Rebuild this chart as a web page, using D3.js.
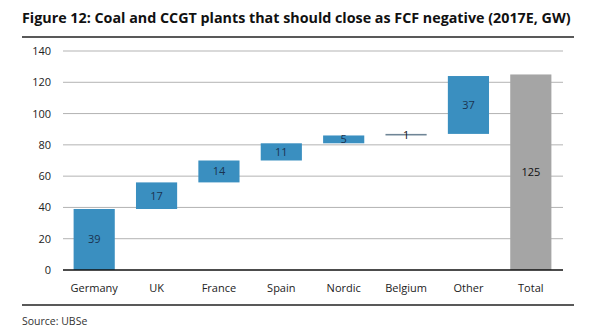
<!DOCTYPE html>
<html>
<head>
<meta charset="utf-8">
<script src="https://cdn.jsdelivr.net/npm/d3@7"></script>
<style>
  html, body { margin: 0; padding: 0; background: #fff; }
  svg { display: block; font-family: 'Open Sans', 'Noto Sans', sans-serif; }
</style>
</head>
<body>
<div id="chart"></div>
<script>
// Closures by country (GW), built up as a waterfall with a total bar
const categories = ['Germany', 'UK', 'France', 'Spain', 'Nordic', 'Belgium', 'Other', 'Total'];
const values = [39, 17, 14, 11, 5, 1, 37, 125];
const yTicks = [0, 20, 40, 60, 80, 100, 120, 140];

const width = 596, height = 334;
const margin = { left: 63, right: 33, top: 51, bottom: 64 };

const svg = d3.select('#chart').append('svg')
  .attr('width', width).attr('height', height);

// Title + rules
svg.append('text')
  .attr('x', 22).attr('y', 23)
  .attr('fill', '#111')
  .style('font-size', '14.3px')
  .style('font-weight', 700)
  .text('Figure 12: Coal and CCGT plants that should close as FCF negative (2017E, GW)');

svg.append('line')
  .attr('x1', 22).attr('x2', 574).attr('y1', 37).attr('y2', 37)
  .attr('stroke', '#222').attr('stroke-width', 1.5);

svg.append('line')
  .attr('x1', 22).attr('x2', 574).attr('y1', 305).attr('y2', 305)
  .attr('stroke', '#222').attr('stroke-width', 1.5);

svg.append('text')
  .attr('x', 22).attr('y', 325)
  .attr('fill', '#333')
  .style('font-size', '10.5px')
  .text('Source:  UBSe');

const x = d3.scaleBand()
  .domain(categories)
  .range([margin.left, width - margin.right - 1])
  .paddingInner(0.34).paddingOuter(0.17);

const y = d3.scaleLinear()
  .domain([0, 140])
  .range([height - margin.bottom, margin.top]);

// Gridlines
svg.append('g')
  .selectAll('line')
  .data(yTicks.filter(d => d > 0))
  .join('line')
  .attr('x1', margin.left).attr('x2', width - margin.right)
  .attr('y1', d => y(d)).attr('y2', d => y(d))
  .attr('stroke', '#b3b3b3').attr('stroke-width', 1);

// Y axis labels
svg.append('g')
  .selectAll('text')
  .data(yTicks)
  .join('text')
  .attr('x', 51).attr('y', d => y(d) + 4)
  .attr('text-anchor', 'end')
  .attr('fill', '#222')
  .style('font-size', '11px')
  .text(d => d);

// Waterfall steps
let run = 0;
const bars = categories.map((c, i) => {
  if (c === 'Total') return { cat: c, v: values[i], lo: 0, hi: values[i], total: true };
  const b = { cat: c, v: values[i], lo: run, hi: run + values[i], total: false };
  run += values[i];
  return b;
});

svg.append('g')
  .selectAll('rect')
  .data(bars)
  .join('rect')
  .attr('x', d => x(d.cat))
  .attr('width', x.bandwidth())
  .attr('y', d => y(d.hi))
  .attr('height', d => Math.max(1, y(d.lo) - y(d.hi)))
  .attr('fill', d => d.total ? '#a5a5a5' : (d.v <= 1 ? '#6f8596' : '#3a8fc0'));

// Value labels, centred in each bar
svg.append('g')
  .selectAll('text')
  .data(bars)
  .join('text')
  .attr('x', d => x(d.cat) + x.bandwidth() / 2)
  .attr('y', d => y((d.lo + d.hi) / 2) + 4)
  .attr('text-anchor', 'middle')
  .attr('fill', d => d.total || d.v <= 1 ? '#111' : '#1b3350')
  .style('font-size', '11px')
  .text(d => d.v);

// Zero line
svg.append('line')
  .attr('x1', margin.left).attr('x2', width - margin.right)
  .attr('y1', y(0)).attr('y2', y(0))
  .attr('stroke', '#111').attr('stroke-width', 1.5);

// Category labels
svg.append('g')
  .selectAll('text')
  .data(categories)
  .join('text')
  .attr('x', d => x(d) + x.bandwidth() / 2)
  .attr('y', 292)
  .attr('text-anchor', 'middle')
  .attr('fill', '#222')
  .style('font-size', '11px')
  .text(d => d);
</script>
</body>
</html>
